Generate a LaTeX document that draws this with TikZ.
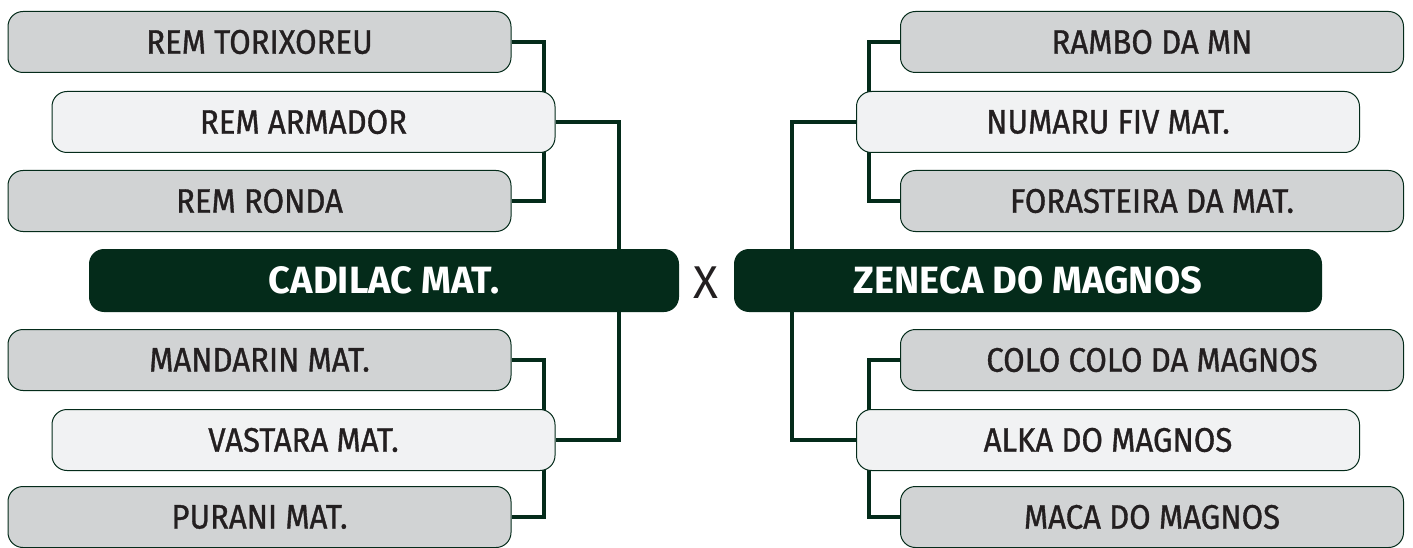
\documentclass[tikz,border=0pt]{standalone}
\usepackage{fontspec}
\setmainfont{Fira Sans}[FakeStretch=0.915, FakeBold=1]
\newfontfamily\finalfont{Fira Sans}
\usepackage{tikz}
\usepackage{xcolor}
\usetikzlibrary{backgrounds}

\definecolor{pinegreen}{HTML}{042B1A}
\definecolor{boxgray}{HTML}{D1D3D4}
\definecolor{boxlight}{HTML}{F1F2F3}
\definecolor{inkgray}{HTML}{231F20}

\begin{document}
\begin{tikzpicture}[x=1pt, y=-1pt,
      every node/.style = {text=inkgray, font=\fontsize{34}{34}\selectfont},
      clubbox/.style = {draw=pinegreen, line width=1pt, rounded corners=15pt,
                        minimum width=503pt, minimum height=61pt},
      outer/.style = {clubbox, fill=boxgray},
      inner/.style = {clubbox, fill=boxlight},
      finalist/.style = {fill=pinegreen, rounded corners=15pt, minimum height=63pt,
                         text=white, font=\fontsize{38}{38}\finalfont\bfseries},
      link/.style = {draw=pinegreen, line width=4pt}]
      \useasboundingbox (0,0) rectangle (1413,548);
      \node[finalist, minimum width=590pt] (cadilac) at (384,280.5) {CADILAC MAT.};
      \node[finalist, minimum width=588pt] (zeneca) at (1028,280.5) {ZENECA DO MAGNOS};
      \node[font=\fontsize{46}{46}\finalfont] (versus) at (706,283) {X};
      \node[outer] (torixoreu) at (259.5,42) {REM TORIXOREU};
      \node[inner] (armador) at (303.5,122) {REM ARMADOR};
      \node[outer] (ronda) at (259.5,201) {REM RONDA};
      \node[outer] (mandarin) at (259.5,360) {MANDARIN MAT.};
      \node[inner] (vastara) at (303.5,440) {VASTARA MAT.};
      \node[outer] (purani) at (259.5,517) {PURANI MAT.};
      \node[outer] (rambo) at (1152,42) {RAMBO DA MN};
      \node[inner] (numaru) at (1108,122) {NUMARU FIV MAT.};
      \node[outer] (forasteira) at (1152,201) {FORASTEIRA DA MAT.};
      \node[outer] (colocolo) at (1152,360) {COLO COLO DA MAGNOS};
      \node[inner] (alka) at (1108,440) {ALKA DO MAGNOS};
      \node[outer] (maca) at (1152,517) {MACA DO MAGNOS};
      \begin{scope}[on background layer]
      \draw[link] (torixoreu.east) -- ++(32,0) |- (ronda.east);
      \draw[link] (mandarin.east) -- ++(32,0) |- (purani.east);
      \draw[link] (armador.east) -- ++(63,0) |- (vastara.east);
      \draw[link] (rambo.west) -- ++(-31,0) |- (forasteira.west);
      \draw[link] (colocolo.west) -- ++(-31,0) |- (maca.west);
      \draw[link] (numaru.west) -- ++(-64,0) |- (alka.west);
      \end{scope}
\end{tikzpicture}
\end{document}
